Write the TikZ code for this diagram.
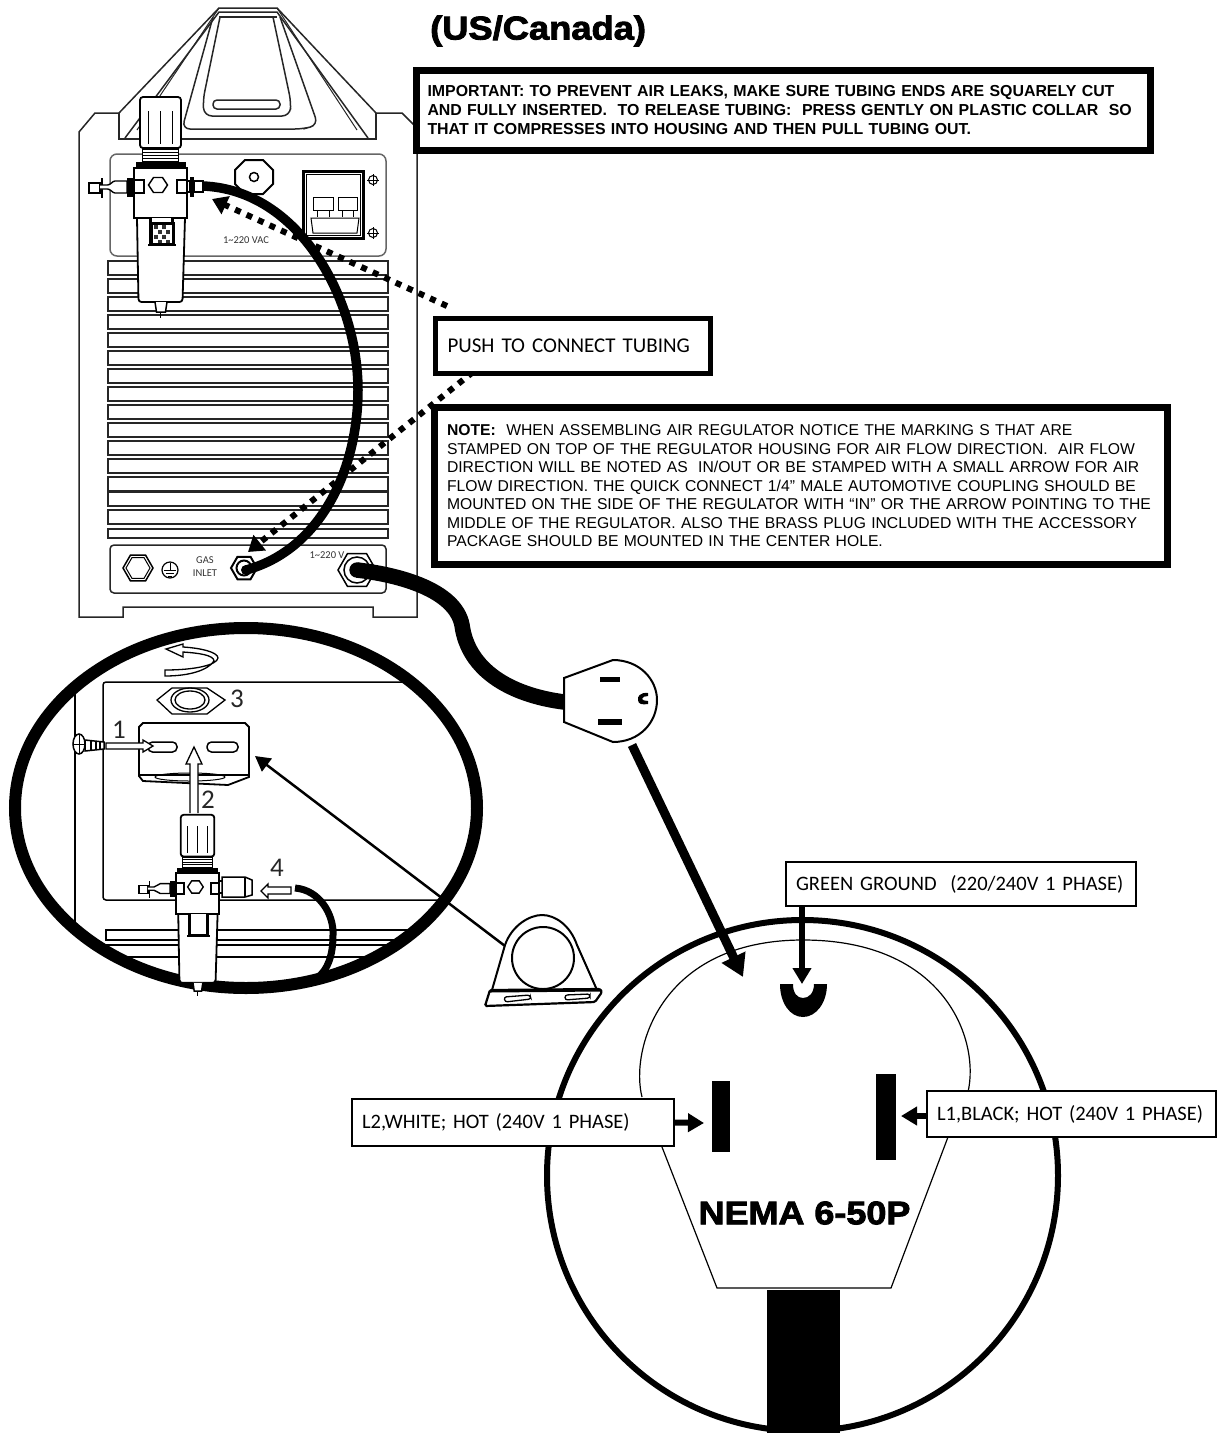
\documentclass[tikz,border=0pt]{standalone}
\usepackage{fontspec}
\setmainfont{Liberation Sans}
\newfontfamily\carl{Carlito}
\newfontfamily\heavy[FakeBold=2.6,FakeStretch=1.1]{Liberation Sans Bold}
\usetikzlibrary{arrows.meta}
\newcommand{\hexa}[4][]{\draw[fill=white,#1] ({#2-#4},{#3}) -- ({#2-.5*#4},{#3-.866*#4}) -- ({#2+.5*#4},{#3-.866*#4}) -- ({#2+#4},{#3}) -- ({#2+.5*#4},{#3+.866*#4}) -- ({#2-.5*#4},{#3+.866*#4}) -- cycle;}
\tikzset{
  x=1pt,y=-1pt,
  outline/.style={line width=1.5pt,draw=black!85},
  thinl/.style={line width=1pt,draw=black!85},
  ventrow/.style={line width=1.8pt,draw=black!85,fill=white},
  noticebox/.style={draw,fill=white,line width=7pt,align=left,inner ysep=0pt,anchor=center},
  labelbox/.style={draw,fill=white,line width=2pt,align=left,inner xsep=10pt,inner ysep=0pt,anchor=center,font=\carl\fontsize{20.5}{23}\selectfont},
  tinytext/.style={inner sep=0pt,text=black!80,align=center,font=\carl\fontsize{10.5}{13}\selectfont},
  steptext/.style={inner sep=0pt,text=black!85,font=\carl\fontsize{27}{29}\selectfont},
  dotarrow/.style={line width=6pt,dash pattern=on 6pt off 6.6pt,-{Triangle[length=15pt,width=19pt]}},
  blockarrow/.style={line width=6pt,-{Triangle[length=16pt,width=18pt]}},
  hollow/.style={line width=1.3pt,draw=black,fill=white},
  regulator/.pic={
    % bowl
    \draw[line width=1.8pt,fill=white,rounded corners=3pt] (-23.5,50) -- (-22,134) -- (22,134) -- (24.5,50);
    \draw[line width=1.5pt,fill=white] (-5.5,134) -- (-4,144) -- (5,144) -- (6.5,134);
    \draw[line width=1.2pt] (0,144) -- (0,150);
    % knob
    \draw[line width=1.8pt,fill=white,rounded corners=3pt] (-20.5,-20) -- (-20.5,-71) -- (20.5,-71) -- (20.5,-20) -- cycle;
    \foreach \px in {-12,0,12} \draw[line width=1pt] (\px,-57) -- (\px,-24);
    \draw[line width=1.2pt,fill=white] (-18,-19) rectangle (18,-5);
    \foreach \py in {-16,-13,-10,-7} \draw[line width=1pt] (-18,\py) -- (18,\py);
    \fill (-24.5,-6) rectangle (25.5,0);
    % left fitting
    \draw[line width=1.4pt,fill=white] (-71.5,15) rectangle (-60.5,25);
    \draw[line width=1.6pt] (-58.5,10) -- (-58.5,30);
    \draw[line width=1.4pt,fill=white] (-60.5,17) -- (-53,17) .. controls (-50,17) and (-48,13) .. (-45.5,13) -- (-33.5,13) -- (-33.5,25) -- (-45.5,25) .. controls (-48,25) and (-50,21) .. (-53,21) -- (-60.5,21);
    \fill (-33.5,10) rectangle (-24.5,29);
    % body
    \draw[line width=2.5pt,fill=white] (-26.5,0) rectangle (26.5,50);
    \draw[line width=2pt,fill=white] (-26.5,12) rectangle (-16.5,25);
    \draw[line width=2pt,fill=white] (16.5,12) rectangle (26.5,25);
    \draw[line width=1.4pt,fill=white] (-12,17) -- (-7,9.5) -- (2,9.5) -- (7,17) -- (2,24.5) -- (-7,24.5) -- cycle;
    % window
    \draw[line width=3pt,fill=white] (-10,50) -- (-10,76) -- (12,76) -- (12,50);
    \fill (-13,76) rectangle (15,78);
  }
}
\begin{document}
\begin{tikzpicture}
\useasboundingbox (0,0) rectangle (1224,1433);
% ---------- machine ----------
\draw[outline] (95,113) -- (119,113) -- (219,8) -- (277,8) -- (376,113) -- (402,113) -- (417,128) -- (417,617) -- (373,617) -- (373,607) -- (123,607) -- (123,617) -- (79,617) -- (79,132) -- cycle;
\draw[outline] (119,113) -- (119,139) -- (376,139) -- (376,113);
\draw[outline] (125,138) -- (219,12) -- (277,12) -- (368,138);
\draw[thinl] (219,8) -- (137,130) (277,8) -- (357,130);
\draw[outline] (219,17) -- (277,17);
\draw[outline,rounded corners=8pt] (213,17) -- (182,129) -- (303,129) -- (318,125) -- (280,17);
\draw[outline,rounded corners=8pt] (220,17) -- (203,100) -- (204,116) -- (290,116) -- (291,102) -- (273,17);
\draw[outline,rounded corners=4pt] (213,100) rectangle (280,109);
% upper panel
\draw[line width=1.5pt,draw=black!60,rounded corners=7pt] (110,154) rectangle (386,256);
\draw[line width=2pt,fill=white] (245,160) -- (263,160) -- (273,170) -- (273,184) -- (263,194) -- (245,194) -- (235,184) -- (235,170) -- cycle;
\draw[line width=1.5pt] (254,177) circle [radius=4.5];
% switch
\draw[line width=3pt,fill=white] (303,171) rectangle (363,238);
\draw[line width=1pt] (306,174) rectangle (360,235);
\draw[line width=1pt,fill=white] (313,197) rectangle (333,210) (338,197) rectangle (357,210);
\draw[line width=1pt] (317,210) -- (317,217) (329,210) -- (329,217) (342,210) -- (342,217) (353,210) -- (353,217);
\draw[line width=1pt,fill=white] (311,218) -- (359,218) -- (357,233) -- (313,233) -- cycle;
\foreach \sy in {180,233} {
  \draw[line width=1pt] (373,\sy) circle [radius=4.5];
  \draw[line width=.8pt] (367,\sy) -- (379,\sy) (373,{\sy-6}) -- (373,{\sy+6});
}
\node[tinytext] (vaclabel) at (246,240) {1\textasciitilde 220 VAC};
% vents
\foreach \vy in {261,279,297,315,333,351,369,387,405,423,441,459,477,492,510}
  \draw[ventrow] (108,\vy) rectangle (388,{\vy+14});
\draw[ventrow] (108,529) rectangle (388,538);
% lower panel
\draw[outline,rounded corners=4pt] (110,545) rectangle (386,593);
\hexa[line width=1.5pt]{138}{568}{15}
\hexa[line width=1pt]{138}{568}{12}
\draw[line width=1.2pt] (170,570) circle [radius=8];
\draw[line width=1pt] (170,563) -- (170,570) (164,570) -- (176,570) (166,573) -- (174,573) (168,576) -- (172,576);
\node[tinytext] (gaslabel) at (205,566.5) {GAS\\INLET};
\node[tinytext] (powerlabel) at (327,555) {1\textasciitilde 220 V};
\hexa[line width=2pt]{244}{568}{13}
\draw[line width=2pt,fill=white] (244,568) circle [radius=7.5];
\hexa[line width=1.5pt]{357}{570}{19}
\draw[line width=1.5pt,fill=white] (357,570) circle [radius=13];
% named ends
\coordinate (tubeA) at (203,186);
\coordinate (tubeB) at (246,570);
\coordinate (cordA) at (357,570);
\coordinate (cordB) at (564,702);
\coordinate (tipA) at (212,199);
\coordinate (tipB) at (248,552);
% boxes first so dotted arrows can start from them
\node[noticebox,inner xsep=11pt,text width=712pt,minimum height=80pt,font=\bfseries\fontsize{15.9}{18.7}\selectfont] (importantbox) at (783.5,110)
  {IMPORTANT: TO PREVENT AIR LEAKS, MAKE SURE TUBING ENDS ARE SQUARELY CUT\\
   AND FULLY INSERTED.\ \ TO RELEASE TUBING:\ \ PRESS GENTLY ON PLASTIC COLLAR\ \ SO\\
   THAT IT COMPRESSES INTO HOUSING AND THEN PULL TUBING OUT.};
% dotted arrows
\coordinate (dotstartA) at (447,306);
\coordinate (dotstartB) at (473,372);
\draw[dotarrow] (dotstartA) -- (tipA);
\draw[dotarrow] (dotstartB) -- (tipB);
% air tube
\draw[line width=9.5pt] (tubeA) .. controls (300,190) and (358,300) .. (358,390) .. controls (358,470) and (320,550) .. (tubeB);
\fill (tubeB) circle [radius=5];
% regulator on machine
\pic at (160.5,168) {regulator};
\draw[line width=2pt,fill=white] (186.5,181) rectangle (190,192);
\fill (190,177) rectangle (194,197);
\draw[line width=1.4pt,fill=white] (194,181) rectangle (203,192);
\draw[line width=3pt,fill=white] (151,223) rectangle (173,244);
\foreach \cx/\cy in {154/225,162/225,158/230,166/230,154/235,162/235,158/240,166/240}
  \fill[black!80] (\cx,\cy) rectangle ({\cx+4},{\cy+4});
\fill (149,243) rectangle (175,246);
% other boxes
\node[draw,fill=white,line width=5pt,inner sep=0pt,minimum width=275pt,minimum height=55pt,align=left,text width=250pt,font=\carl\fontsize{21}{23}\selectfont] (pushbox) at (572.5,345.5) {PUSH TO CONNECT TUBING};
\node[noticebox,inner xsep=12.5pt,text width=708pt,minimum height=157pt,font=\fontsize{15.7}{18.5}\selectfont] (notebox) at (801,486)
  {\textbf{NOTE:}\ \ WHEN ASSEMBLING AIR REGULATOR NOTICE THE MARKING S THAT ARE\\
   STAMPED ON TOP OF THE REGULATOR HOUSING FOR AIR FLOW DIRECTION.\ \ AIR FLOW\\
   DIRECTION WILL BE NOTED AS\ \ IN/OUT OR BE STAMPED WITH A SMALL ARROW FOR AIR\\
   FLOW DIRECTION. THE QUICK CONNECT 1/4” MALE AUTOMOTIVE COUPLING SHOULD BE\\
   \mbox{MOUNTED ON THE SIDE OF THE REGULATOR WITH “IN” OR THE ARROW POINTING TO THE}\\
   MIDDLE OF THE REGULATOR. ALSO THE BRASS PLUG INCLUDED WITH THE ACCESSORY\\
   PACKAGE SHOULD BE MOUNTED IN THE CENTER HOLE.\\[5pt]};
\node[anchor=base west,inner sep=0pt,font=\heavy\fontsize{33}{35}\selectfont] (title) at (430,39.5) {(US/Canada)};
% power cord
\draw[line width=15.5pt] (cordA) .. controls (400,575) and (455,590) .. (462,625) .. controls (468,670) and (510,695) .. (cordB);
\fill (cordA) circle [radius=7.7];
% small plug
\draw[line width=2pt,fill=white] (564,678) -- (613,660) .. controls (640,660) and (657,680) .. (657,700) .. controls (657,722) and (640,742) .. (613,742) -- (564,722) -- cycle;
\fill (600,677) rectangle (620,682);
\fill (598,719) rectangle (622,725);
\fill (648,693) .. controls (640,692) and (637,697) .. (638,700) .. controls (638,704) and (642,705) .. (648,704) -- (648,701) .. controls (645,701) and (642,700) .. (642,699) .. controls (642,697) and (645,696) .. (648,696) -- cycle;
% ---------- magnified view ----------
\begin{scope}
  \clip (246,808) ellipse [x radius=231,y radius=180];
  \draw[line width=1.5pt] (75,680) -- (75,940);
  \draw[line width=1.5pt,rounded corners=3pt] (480,682) -- (103,682) -- (103,900) -- (480,900);
  \draw[line width=1.5pt] (106,930) rectangle (480,940);
  \draw[line width=1.5pt] (106,945) rectangle (480,957);
\end{scope}
\draw[line width=12pt] (246,808) ellipse [x radius=231,y radius=180];
% rotate arrow
\draw[hollow] (165,670) .. controls (195,670) and (217,665) .. (218,658) .. controls (218,652) and (200,648) .. (183,647) -- (183,644) -- (166,649) -- (183,657) -- (183,652) .. controls (198,653) and (214,655) .. (214,661) .. controls (208,670) and (190,676) .. (165,676) -- cycle;
% nut
\draw[line width=1.3pt,fill=white] (157,700) -- (172,688) -- (207,688) -- (225,700) -- (207,714) -- (172,714) -- cycle;
\draw[line width=1.3pt] (190,700) ellipse [x radius=19,y radius=12];
\draw[line width=1.3pt] (190,700) ellipse [x radius=15,y radius=9];
\node[steptext] (stepthree) at (237,699) {3};
% bracket
\draw[line width=1.8pt,fill=white] (143,723) -- (245,723) -- (249,727) -- (249,777) -- (228,785) -- (143,781) -- (139,776) -- (139,727) -- cycle;
\draw[line width=1.2pt] (139,775) -- (249,775);
\draw[line width=1pt] (190,777) ellipse [x radius=35,y radius=4];
\draw[line width=1.5pt,rounded corners=4.5pt] (148,742) rectangle (177,752);
\draw[line width=1.5pt,rounded corners=4.5pt] (207,742) rectangle (238,752);
% screw
\draw[line width=1.5pt,fill=white] (85,740) -- (104,742) -- (104,749) -- (85,751) -- cycle;
\draw[line width=1.2pt] (91,740) -- (91,751) (96,741) -- (96,750) (100,741) -- (100,750);
\draw[line width=1.5pt,fill=white] (79,744) ellipse [x radius=6,y radius=10];
\draw[line width=1pt] (73,744) -- (85,744) (79,734) -- (79,754);
\node[steptext] (stepone) at (119,730) {1};
\draw[hollow] (106,743) -- (143,743) -- (143,740) -- (153,746) -- (143,752) -- (143,749) -- (106,749) -- cycle;
\node[steptext] (steptwo) at (208,800) {2};
\draw[hollow] (190,813) -- (190,764) -- (186,764) -- (194,747) -- (202,764) -- (198,764) -- (198,813);
% lower regulator
\pic[scale=.82] at (197.5,873) {regulator};
\draw[line width=1.5pt,fill=white] (222,877) -- (245,877) -- (252,880) -- (252,895) -- (245,897) -- (222,897) -- cycle;
\draw[line width=1.2pt] (245,877) -- (245,897);
\draw[line width=1.6pt] (220,881) -- (222,881) (220,893) -- (222,893);
\node[steptext] (stepfour) at (277,868) {4};
\draw[hollow] (291,887) -- (268,887) -- (268,884) -- (261,891) -- (268,898) -- (268,894) -- (291,894) -- cycle;
\coordinate (hoseA) at (295,888);
\coordinate (hoseB) at (317,978);
\draw[line width=7pt] (hoseA) .. controls (320,890) and (334,915) .. (333,935) .. controls (333,955) and (328,970) .. (hoseB);
% loose bracket
\draw[line width=2pt,fill=white] (492,990) -- (505,945) .. controls (512,925) and (530,915) .. (542,915) .. controls (555,915) and (570,925) .. (577,945) -- (597,990) -- cycle;
\draw[line width=2pt] (543,958) circle [radius=31];
\draw[line width=2.2pt,fill=white,rounded corners=1.5pt] (490,990) -- (485,1006) -- (595,1002) -- (602,992) -- (600,989) -- cycle;
\draw[line width=3pt] (490,991) -- (601,990);
\draw[line width=1.3pt,rounded corners=2.5pt] (504,997) -- (530,995) -- (531,999) -- (505,1002) -- cycle;
\draw[line width=1.3pt,rounded corners=2.5pt] (565,995) -- (590,994) -- (590,998) -- (565,1000) -- cycle;
\coordinate (looseTop) at (505,946);
\coordinate (mountTip) at (255,756);
\draw[line width=2.5pt,-{Triangle[length=15pt,width=16pt]}] (looseTop) -- (mountTip);
% ---------- big plug ----------
\draw[line width=6pt] (802.5,1175.5) circle [radius=255.5];
\draw[line width=1.2pt] (642,1097) .. controls (630,1050) and (660,940) .. (803,940) .. controls (945,940) and (980,1040) .. (968,1092);
\draw[line width=1.2pt] (662,1147) -- (717,1288) -- (891,1288) -- (948,1137);
\fill (767,1290) rectangle (840,1433);
\fill (712,1081) rectangle (730,1152);
\fill (876,1074) rectangle (896,1160);
\fill (780,984) .. controls (780,1003) and (790,1017) .. (803,1017) .. controls (816,1017) and (827,1003) .. (827,984) -- (814,984) .. controls (814,993) and (809,998) .. (803,998) .. controls (797,998) and (793,993) .. (793,984) -- cycle;
\node[anchor=center,inner sep=0pt,font=\heavy\fontsize{32.7}{35}\selectfont] (nemalabel) at (804.5,1213) {NEMA 6-50P};
\node[labelbox,text width=330pt,minimum height=44pt] (greenbox) at (961,884) {GREEN GROUND\ \ (220/240V 1 PHASE)};
\node[labelbox,text width=302pt,minimum height=47pt] (whitebox) at (513,1122.5) {L2,WHITE; HOT (240V 1 PHASE)};
\node[labelbox,text width=269pt,minimum height=46pt] (blackbox) at (1071.5,1114) {L1,BLACK; HOT (240V 1 PHASE)};
\coordinate (groundtip) at (802,984);
\coordinate (whitetip) at (704,1123);
\coordinate (blacktip) at (901,1116);
\draw[blockarrow] (greenbox.south -| groundtip) -- (groundtip);
\draw[blockarrow] (whitebox.east) -- (whitetip);
\draw[blockarrow] (blackbox.west |- blacktip) -- (blacktip);
\coordinate (plugbottom) at (632,745);
\coordinate (bigtip) at (743,977);
\draw[line width=9pt,-{Triangle[length=22pt,width=25pt]}] (plugbottom) -- (bigtip);
\end{tikzpicture}
\end{document}
